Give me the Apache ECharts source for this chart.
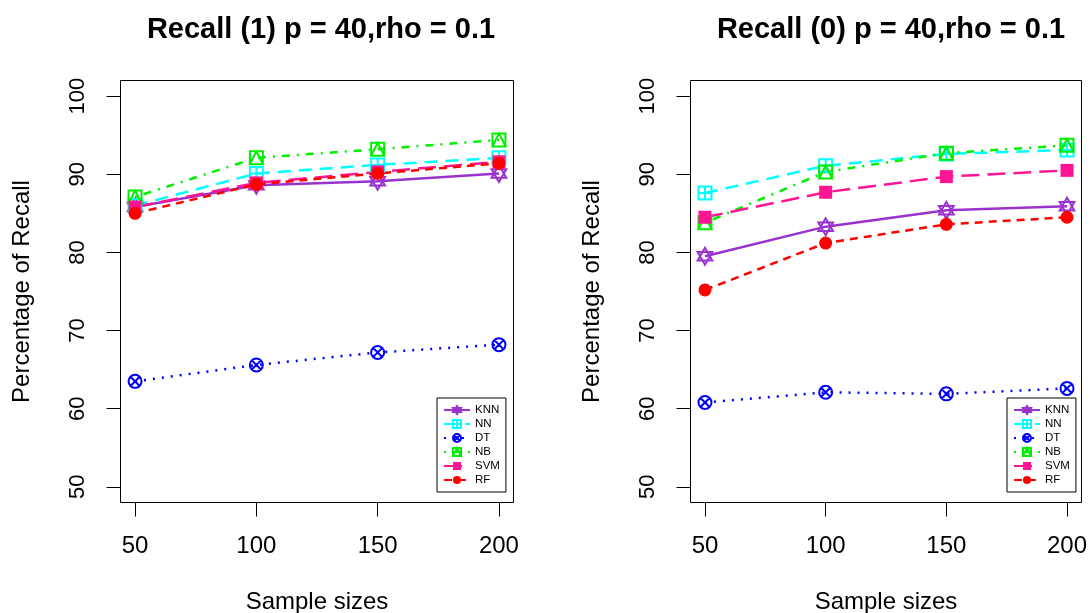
<!DOCTYPE html>
<html>
<head>
<meta charset="utf-8">
<script src="https://cdn.jsdelivr.net/npm/echarts@6/dist/echarts.min.js"></script>
<style>
  html, body { margin: 0; padding: 0; background: #fff; }
  #main { width: 1090px; height: 613px; }
</style>
</head>
<body>
<div id="main"></div>
<script>
// sample sizes on the x axis
const sampleSizes = [50, 100, 150, 200];
const yTicks = [50, 60, 70, 80, 90, 100];
const methods = ['KNN', 'NN', 'DT', 'NB', 'SVM', 'RF'];

// Recall (1)
const knn1 = [85.8, 88.6, 89.1, 90.1];
const nn1 = [86.0, 90.1, 91.2, 92.1];
const dt1 = [63.5, 65.6, 67.2, 68.2];
const nb1 = [87.1, 92.1, 93.2, 94.4];
const svm1 = [85.8, 88.9, 90.3, 91.6];
const rf1 = [85.0, 88.7, 90.1, 91.4];

// Recall (0)
const knn0 = [79.5, 83.3, 85.4, 85.9];
const nn0 = [87.6, 91.1, 92.6, 93.1];
const dt0 = [60.8, 62.1, 61.9, 62.6];
const nb0 = [83.8, 90.3, 92.7, 93.7];
const svm0 = [84.5, 87.7, 89.7, 90.5];
const rf0 = [75.2, 81.2, 83.6, 84.5];

const FONT = '"Liberation Sans", Arial, sans-serif';

// per-method look, roughly following R's pch / lty
const styles = {
  KNN: { color: '#9A32CD', dash: 'solid', hollow: true,
         symbol: 'path://M0,-10 L8.66,5 L-8.66,5 Z M0,10 L8.66,-5 L-8.66,-5 Z', size: 17 },
  NN:  { color: '#00FFFF', dash: [13, 8], hollow: true,
         symbol: 'path://M-10,-10 L10,-10 L10,10 L-10,10 Z M0,-10 L0,10 M-10,0 L10,0', size: 13 },
  DT:  { color: '#0000FF', dash: [2, 7], hollow: true,
         symbol: 'path://M10,0 A10,10 0 1,1 -10,0 A10,10 0 1,1 10,0 Z M-7,-7 L7,7 M7,-7 L-7,7', size: 13 },
  NB:  { color: '#00EE00', dash: [2, 7, 8, 7], hollow: true,
         symbol: 'path://M-10,-10 L10,-10 L10,10 L-10,10 Z M0,-10 L10,10 L-10,10 Z', size: 13 },
  SVM: { color: '#FF1493', dash: [18, 8], hollow: false, symbol: 'rect', size: 13 },
  RF:  { color: '#FF0000', dash: [8, 6], hollow: false, symbol: 'circle', size: 13 }
};

function makeSeries(name, values, idx) {
  const s = styles[name];
  return {
    name: name,
    type: 'line',
    xAxisIndex: idx,
    yAxisIndex: idx,
    data: sampleSizes.map((x, i) => [x, values[i]]),
    symbol: s.symbol,
    symbolSize: s.size,
    symbolKeepAspect: true,
    lineStyle: { color: s.color, width: 2.5, type: s.dash },
    itemStyle: s.hollow
      ? { color: 'rgba(0,0,0,0)', borderColor: s.color, borderWidth: 2 }
      : { color: s.color, borderWidth: 0 },
    emphasis: { disabled: true },
    animation: false
  };
}

function xAxisFor(idx) {
  return {
    type: 'value', gridIndex: idx, min: 44, max: 206,
    name: 'Sample sizes', nameLocation: 'middle', nameGap: 88,
    nameTextStyle: { fontSize: 24, fontFamily: FONT, color: '#000' },
    axisLine: { show: false },
    axisTick: { show: true, inside: false, length: 14, customValues: sampleSizes,
                lineStyle: { color: '#000', width: 1 } },
    axisLabel: { customValues: sampleSizes, margin: 32, fontSize: 24, fontFamily: FONT, color: '#000' },
    splitLine: { show: false }
  };
}

function yAxisFor(idx) {
  return {
    type: 'value', gridIndex: idx, min: 48, max: 102,
    name: 'Percentage of Recall', nameLocation: 'middle', nameGap: 86,
    nameTextStyle: { fontSize: 24, fontFamily: FONT, color: '#000' },
    axisLine: { show: false },
    axisTick: { show: true, inside: false, length: 14, customValues: yTicks,
                lineStyle: { color: '#000', width: 1 } },
    axisLabel: { customValues: yTicks, rotate: 90, margin: 32, fontSize: 22, fontFamily: FONT, color: '#000' },
    splitLine: { show: false }
  };
}

function legendFor(left) {
  return {
    data: methods,
    orient: 'vertical',
    left: left, top: 398,
    padding: [6, 6, 6, 6],
    itemWidth: 26, itemHeight: 10, itemGap: 2,
    borderColor: '#000', borderWidth: 1,
    backgroundColor: '#fff',
    selectedMode: false,
    textStyle: { fontSize: 11.5, fontFamily: FONT, color: '#000', lineHeight: 12 }
  };
}

const chart = echarts.init(document.getElementById('main'));
chart.setOption({
  backgroundColor: '#fff',
  animation: false,
  title: [
    { text: 'Recall (1) p = 40,rho = 0.1', left: 316, top: 10, textAlign: 'center',
      textStyle: { fontSize: 29, fontWeight: 'bold', fontFamily: FONT, color: '#000' } },
    { text: 'Recall (0) p = 40,rho = 0.1', left: 886, top: 10, textAlign: 'center',
      textStyle: { fontSize: 29, fontWeight: 'bold', fontFamily: FONT, color: '#000' } }
  ],
  grid: [
    { left: 120.5, top: 80.5, width: 393, height: 422, show: true, outerBoundsMode: 'none',
      borderColor: '#000', borderWidth: 1, backgroundColor: 'transparent' },
    { left: 690.5, top: 80.5, width: 391, height: 422, show: true, outerBoundsMode: 'none',
      borderColor: '#000', borderWidth: 1, backgroundColor: 'transparent' }
  ],
  xAxis: [xAxisFor(0), xAxisFor(1)],
  yAxis: [yAxisFor(0), yAxisFor(1)],
  legend: [legendFor(437), legendFor(1007)],
  series: [
    makeSeries('KNN', knn1, 0), makeSeries('NN', nn1, 0), makeSeries('DT', dt1, 0),
    makeSeries('NB', nb1, 0), makeSeries('SVM', svm1, 0), makeSeries('RF', rf1, 0),
    makeSeries('KNN', knn0, 1), makeSeries('NN', nn0, 1), makeSeries('DT', dt0, 1),
    makeSeries('NB', nb0, 1), makeSeries('SVM', svm0, 1), makeSeries('RF', rf0, 1)
  ]
});

window.onresize = () => {
  chart.resize();
};
</script>
</body>
</html>
